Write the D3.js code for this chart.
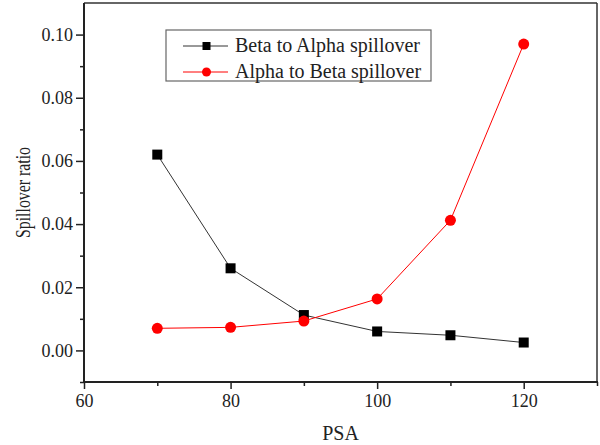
<!DOCTYPE html>
<html><head><meta charset="utf-8">
<script src="https://cdn.jsdelivr.net/npm/d3@7"></script>
<style>body{margin:0;background:#fff}svg{display:block}text{font-family:"Liberation Serif","Times New Roman",serif;fill:#222}</style>
</head><body><svg id="c" width="600" height="445"></svg>
<script>
const psa = [70, 80, 90, 100, 110, 120];
const betaToAlpha = [0.062, 0.026, 0.0112, 0.0060, 0.0048, 0.0025];
const alphaToBeta = [0.0070, 0.0073, 0.0093, 0.0163, 0.0412, 0.0970];
const xTicks = [60, 80, 100, 120];
const xMinor = [70, 90, 110, 130];
const yTicks = [0.00, 0.02, 0.04, 0.06, 0.08, 0.10];
const yMinor = [-0.01, 0.01, 0.03, 0.05, 0.07, 0.09];
const seriesNames = ["Beta to Alpha spillover", "Alpha to Beta spillover"];

const L = 84, R = 597, T = 3, B = 382;
const svg = d3.select("#c");
const x = d3.scaleLinear().domain([60, 130]).range([L, R]);
const y = d3.scaleLinear().domain([-0.01, 0.11]).range([B, T]);

const yAxis = d3.axisLeft(y).tickValues(yTicks).tickFormat(d3.format(".2f")).tickSize(8).tickPadding(3);
const yAxisMinor = d3.axisLeft(y).tickValues(yMinor).tickFormat("").tickSize(4);
const xAxis = d3.axisBottom(x).tickValues(xTicks).tickFormat(d3.format("d")).tickSize(7).tickPadding(5);
const xAxisMinor = d3.axisBottom(x).tickValues(xMinor).tickFormat("").tickSize(4);

function style(g){
  g.attr("font-family", null).attr("font-size", null);
  g.select(".domain").remove();
  g.selectAll("line").attr("stroke","#222").attr("stroke-width",1.5);
  g.selectAll("text").attr("font-size",18).attr("font-family","Liberation Serif").attr("fill","#333");
}
svg.append("g").attr("transform",`translate(${L},0)`).call(yAxis).call(style);
svg.append("g").attr("transform",`translate(${L},0)`).call(yAxisMinor).call(style);
svg.append("g").attr("transform",`translate(0,${B})`).call(xAxis).call(style);
svg.append("g").attr("transform",`translate(0,${B})`).call(xAxisMinor).call(style);

svg.append("line").attr("x1",L).attr("x2",R).attr("y1",T).attr("y2",T).attr("stroke","#333").attr("stroke-width",1.5);
svg.append("line").attr("x1",R).attr("x2",R).attr("y1",T).attr("y2",B).attr("stroke","#333").attr("stroke-width",1.5);
svg.append("line").attr("x1",L).attr("x2",L).attr("y1",T).attr("y2",B+1).attr("stroke","#222").attr("stroke-width",2);
svg.append("line").attr("x1",L-1).attr("x2",R+1).attr("y1",B).attr("y2",B).attr("stroke","#222").attr("stroke-width",2);

svg.append("text").attr("x",(L+R)/2).attr("y",440).attr("text-anchor","middle").attr("font-size",20).text("PSA");
svg.append("text").attr("transform",`translate(30,${(T+B)/2}) rotate(-90) scale(0.72,1)`).attr("text-anchor","middle")
  .attr("font-size",22).text("Spillover ratio");

const line = d3.line().x((d,i)=>x(psa[i])).y(d=>y(d));
svg.append("path").datum(betaToAlpha).attr("d",line).attr("fill","none").attr("stroke","#333").attr("stroke-width",1);
svg.append("g").selectAll("rect").data(betaToAlpha).join("rect")
  .attr("x",(d,i)=>x(psa[i])-5).attr("y",d=>y(d)-5).attr("width",10).attr("height",10).attr("fill","#000");
svg.append("path").datum(alphaToBeta).attr("d",line).attr("fill","none").attr("stroke","#f00").attr("stroke-width",1);
svg.append("g").selectAll("circle").data(alphaToBeta).join("circle")
  .attr("cx",(d,i)=>x(psa[i])).attr("cy",d=>y(d)).attr("r",5.5).attr("fill","#f00");

const lg = svg.append("g");
lg.append("rect").attr("x",166).attr("y",30).attr("width",265).attr("height",51).attr("fill","#fff").attr("stroke","#666").attr("stroke-width",1.2);
const rows = [{name:seriesNames[0],color:"#333",shape:"sq",cy:46},{name:seriesNames[1],color:"#f00",shape:"ci",cy:72}];
rows.forEach(r=>{
  lg.append("line").attr("x1",183).attr("x2",228).attr("y1",r.cy).attr("y2",r.cy).attr("stroke",r.color).attr("stroke-width",1);
  if(r.shape==="sq") lg.append("rect").attr("x",202.5).attr("y",r.cy-4).attr("width",8).attr("height",8).attr("fill","#000");
  else lg.append("circle").attr("cx",206.5).attr("cy",r.cy).attr("r",4.5).attr("fill","#f00");
  lg.append("text").attr("x",235).attr("y",r.cy+6).attr("font-size",20).text(r.name);
});
</script></body></html>
